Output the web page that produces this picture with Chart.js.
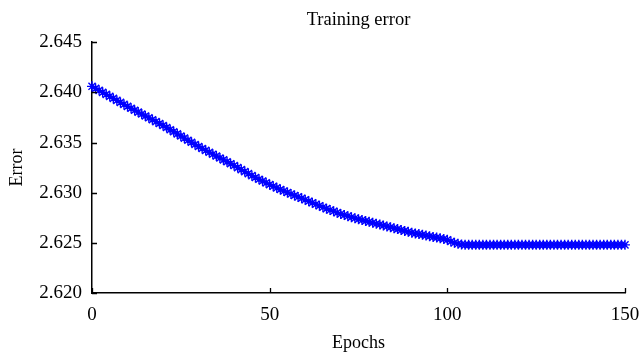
<!DOCTYPE html>
<html>
<head>
<meta charset="utf-8">
<script src="https://cdn.jsdelivr.net/npm/chart.js@4/dist/chart.umd.min.js"></script>
<style>
  html, body { margin: 0; padding: 0; background: #fff; }
  #wrap { width: 640px; height: 358px; }
</style>
</head>
<body>
<div id="wrap"><canvas id="errorChart" width="640" height="358"></canvas></div>
<script>
// training error per epoch (index = epoch 0..150)
var trainingError = [
    2.6406, 2.6404, 2.6402, 2.6400, 2.6398, 2.6396, 2.6394, 2.6392, 2.6390, 2.6388,
    2.6386, 2.63841, 2.63822, 2.63803, 2.63784, 2.63765, 2.63746, 2.63727, 2.63708, 2.63689,
    2.63670, 2.63649, 2.63628, 2.63607, 2.63586, 2.63565, 2.63544, 2.63523, 2.63502, 2.63481,
    2.63460, 2.63441, 2.63422, 2.63403, 2.63384, 2.63365, 2.63346, 2.63327, 2.63308, 2.63289,
    2.63270, 2.63250, 2.63230, 2.63210, 2.63190, 2.63170, 2.63152, 2.63134, 2.63116, 2.63098,
    2.63080, 2.63064, 2.63048, 2.63032, 2.63017, 2.63002, 2.62987, 2.62972, 2.62958, 2.62944,
    2.62930, 2.62915, 2.62900, 2.62885, 2.62870, 2.62855, 2.62841, 2.62827, 2.62814, 2.62801,
    2.62788, 2.62777, 2.62766, 2.62756, 2.62746, 2.62736, 2.62727, 2.62718, 2.62709, 2.62700,
    2.62691, 2.62682, 2.62673, 2.62664, 2.62655, 2.62646, 2.62637, 2.62628, 2.62619, 2.62610,
    2.62601, 2.62594, 2.62587, 2.62580, 2.62573, 2.62566, 2.62559, 2.62552, 2.62545, 2.62538,
    2.62530, 2.62514, 2.62500, 2.62490, 2.62483, 2.62480, 2.62480, 2.62480, 2.62480, 2.62480,
    2.62480, 2.62480, 2.62480, 2.62480, 2.62480, 2.62480, 2.62480, 2.62480, 2.62480, 2.62480,
    2.62480, 2.62480, 2.62480, 2.62480, 2.62480, 2.62480, 2.62480, 2.62480, 2.62480, 2.62480,
    2.62480, 2.62480, 2.62480, 2.62480, 2.62480, 2.62480, 2.62480, 2.62480, 2.62480, 2.62480,
    2.62480, 2.62480, 2.62480, 2.62480, 2.62480, 2.62480, 2.62480, 2.62480, 2.62480, 2.62480,
    2.62480
];
var xTicks = [0, 50, 100, 150];
var yTicks = [2.620, 2.625, 2.630, 2.635, 2.640, 2.645];

const SERIF = "'Liberation Serif', 'Times New Roman', serif";

var points = trainingError.map((v, i) => ({ x: i, y: v }));

// matlab-style tick marks that point into the plot
const inwardTicks = {
    id: 'inwardTicks',
    afterDraw(chart) {
        var ctx = chart.ctx;
        var xs = chart.scales.x, ys = chart.scales.y;
        ctx.save();
        ctx.strokeStyle = '#000';
        ctx.lineWidth = 1.3;
        ctx.beginPath();
        xTicks.forEach(t => {
            var px = Math.round(xs.getPixelForValue(t)) + 0.5;
            ctx.moveTo(px, ys.bottom);
            ctx.lineTo(px, ys.bottom - 5);
        });
        yTicks.forEach(t => {
            var py = Math.round(ys.getPixelForValue(t)) + 0.5;
            ctx.moveTo(xs.left, py);
            ctx.lineTo(xs.left + 5, py);
        });
        ctx.stroke();
        ctx.restore();
    }
};

new Chart(document.getElementById('errorChart'), {
    type: 'line',
    data: {
        datasets: [{
            label: 'Training error',
            data: points,
            borderColor: '#0000ff',
            borderWidth: 2,
            backgroundColor: '#0000ff',
            pointStyle: 'star',
            pointRadius: 5,
            pointBorderWidth: 1.4,
            pointBorderColor: '#0000ff',
            fill: false,
            tension: 0,
            clip: false
        }]
    },
    options: {
        responsive: false,
        animation: false,
        layout: { padding: { left: 0, right: 15, top: 0, bottom: 0 } },
        plugins: {
            legend: { display: false },
            tooltip: { enabled: false },
            title: {
                display: true,
                text: 'Training error',
                fullSize: false,
                color: '#000',
                font: { family: SERIF, size: 18.5, weight: 'normal' },
                padding: { top: 9, bottom: 11 }
            }
        },
        scales: {
            x: {
                type: 'linear',
                min: 0,
                max: 150,
                afterBuildTicks: s => { s.ticks = xTicks.map(v => ({ value: v })); },
                afterFit: s => { s.height = 65; s.paddingRight = 0; s.paddingLeft = 0; },
                grid: { display: false, drawTicks: false },
                border: { color: '#000', width: 1.5 },
                ticks: {
                    color: '#000',
                    padding: 11,
                    maxRotation: 0,
                    font: { family: SERIF, size: 19 }
                },
                title: {
                    display: true,
                    text: 'Epochs',
                    color: '#000',
                    font: { family: SERIF, size: 18 },
                    padding: { top: 0, bottom: 4 }
                }
            },
            y: {
                min: 2.620,
                max: 2.645,
                afterBuildTicks: s => { s.ticks = yTicks.map(v => ({ value: v })); },
                afterFit: s => { s.width = 92; },
                grid: { display: false, drawTicks: false },
                border: { color: '#000', width: 1.5 },
                ticks: {
                    color: '#000',
                    padding: 10,
                    font: { family: SERIF, size: 19 },
                    callback: v => v.toFixed(3)
                },
                title: {
                    display: true,
                    text: 'Error',
                    color: '#000',
                    font: { family: SERIF, size: 18 },
                    padding: { top: 6, bottom: 0 }
                }
            }
        }
    },
    plugins: [inwardTicks]
});
</script>
</body>
</html>
